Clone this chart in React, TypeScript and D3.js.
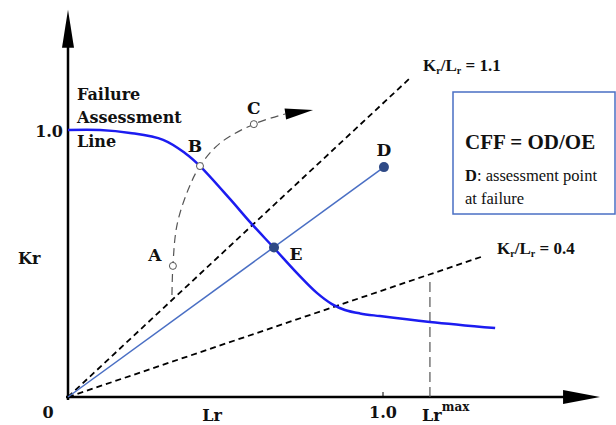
import * as d3 from "d3";

// failure assessment line (Lr, Kr)
const falLr = [0, 0.102, 0.197, 0.302, 0.371, 0.419, 0.514, 0.578, 0.654, 0.727, 0.79, 0.838, 0.879, 0.927, 0.99, 1.149, 1.356];
const falKr = [1.0, 1.0, 0.989, 0.963, 0.914, 0.865, 0.742, 0.655, 0.558, 0.464, 0.39, 0.348, 0.326, 0.313, 0.303, 0.281, 0.258];

// loading path through A, B, C
const pathLr = [0.33, 0.333, 0.346, 0.381, 0.419, 0.483, 0.59, 0.689, 0.778];
const pathKr = [0.382, 0.491, 0.644, 0.775, 0.865, 0.951, 1.022, 1.06, 1.075];

const openPoints = [
  { name: "A", lr: 0.333, kr: 0.491 },
  { name: "B", lr: 0.419, kr: 0.865 },
  { name: "C", lr: 0.59, kr: 1.022 },
];
const pointD = { name: "D", lr: 1.003, kr: 0.861 };
const pointE = { name: "E", lr: 0.654, kr: 0.56 };

const rayRatios = [1.1, 0.4];
const rayEndLr = [1.086, 1.314];

const lrMax = 1.149;
const lrMaxTopKr = 0.431;
const lrAxisEnd = 1.689;
const krAxisEnd = 1.45;

const W = 616;
const H = 425;

const x = d3.scaleLinear().domain([0, 1]).range([68, 383]);
const y = d3.scaleLinear().domain([0, 1]).range([397, 130]);

const labelFont = "'DejaVu Serif', serif";
const boxFont = "'Liberation Serif', 'Times New Roman', serif";

export default function App() {
  const line = d3
    .line<[number, number]>()
    .x((d) => x(d[0]))
    .y((d) => y(d[1]));

  const fal = line.curve(d3.curveCatmullRom.alpha(0.5))(falLr.map((v, i) => [v, falKr[i]]));
  const pathPts: [number, number][] = pathLr.map((v, i) => [v, pathKr[i]]);

  // arrow head at end of loading path
  const last = pathPts[pathPts.length - 1];
  const prev = pathPts[pathPts.length - 2];
  const tipX = x(last[0]);
  const tipY = y(last[1]);
  const ang = Math.atan2(tipY - y(prev[1]), tipX - x(prev[0]));
  const headLen = 28;
  const headHalf = 5.5;
  const baseX = tipX - headLen * Math.cos(ang);
  const baseY = tipY - headLen * Math.sin(ang);
  const nx = -Math.sin(ang);
  const ny = Math.cos(ang);
  const pathLine = d3
    .line<[number, number]>()
    .x((d) => x(d[0]))
    .y((d) => y(d[1]))
    .curve(d3.curveCatmullRom)(pathPts.slice(0, -1).concat([[x.invert(baseX), y.invert(baseY)]]));

  const ox = x(0);
  const oy = y(0);
  const xEnd = x(lrAxisEnd);
  const yEnd = y(krAxisEnd);

  return (
    <svg width={W} height={H} style={{ position: "absolute", left: 0, top: 0, background: "#fff" }}>
      {/* axes */}
      <line x1={ox - 2} y1={oy} x2={xEnd - 36} y2={oy} stroke="#000" strokeWidth={2.5} />
      <polygon points={`${xEnd},${oy} ${xEnd - 37},${oy - 7} ${xEnd - 37},${oy + 7}`} fill="#000" />
      <line x1={ox} y1={oy + 3} x2={ox} y2={yEnd + 36} stroke="#000" strokeWidth={2.5} />
      <polygon points={`${ox},${yEnd} ${ox - 6},${yEnd + 38} ${ox + 6},${yEnd + 38}`} fill="#000" />
      <line x1={x(1)} y1={oy} x2={x(1)} y2={oy - 5} stroke="#000" strokeWidth={1} />

      {/* Lr max */}
      <line x1={x(lrMax)} y1={oy} x2={x(lrMax)} y2={y(lrMaxTopKr)} stroke="#555" strokeWidth={1.2} strokeDasharray="10 5" />

      {/* rays Kr/Lr */}
      {rayRatios.map((r, i) => (
        <line key={r} x1={ox} y1={oy} x2={x(rayEndLr[i])} y2={y(r * rayEndLr[i])} stroke="#000" strokeWidth={1.8} strokeDasharray="6 4" />
      ))}

      {/* OD line */}
      <line x1={ox} y1={oy} x2={x(pointD.lr)} y2={y(pointD.kr)} stroke="#4a6fc4" strokeWidth={1.5} />

      {/* loading path */}
      <path d={pathLine || ""} fill="none" stroke="#555" strokeWidth={1.2} strokeDasharray="8 5" />
      <polygon
        points={`${tipX},${tipY} ${baseX + nx * headHalf},${baseY + ny * headHalf} ${baseX - nx * headHalf},${baseY - ny * headHalf}`}
        fill="#000"
      />

      {/* FAL */}
      <path d={fal || ""} fill="none" stroke="#1c1cf0" strokeWidth={2.5} />

      {openPoints.map((p) => (
        <circle key={p.name} cx={x(p.lr)} cy={y(p.kr)} r={3.5} fill="#fff" stroke="#555" strokeWidth={1} />
      ))}
      {[pointD, pointE].map((p) => (
        <circle key={p.name} cx={x(p.lr)} cy={y(p.kr)} r={5} fill="#2f4a86" />
      ))}

      {/* point labels */}
      <g fontFamily={labelFont} fontWeight="bold" fontSize={17} fill="#111">
        <text x={x(0.333) - 18} y={y(0.491) - 5} textAnchor="middle">A</text>
        <text x={x(0.419) - 5} y={y(0.865) - 14} textAnchor="middle">B</text>
        <text x={x(0.59)} y={y(1.022) - 10} textAnchor="middle">C</text>
        <text x={x(1.003)} y={y(0.861) - 11} textAnchor="middle">D</text>
        <text x={x(0.654) + 22} y={y(0.56) + 13} textAnchor="middle">E</text>
      </g>

      {/* FAL label */}
      <g fontFamily={labelFont} fontWeight="bold" fontSize={16} fill="#111">
        <text x={77} y={100}>Failure</text>
        <text x={77} y={123}>Assessment</text>
        <text x={77} y={147}>Line</text>
      </g>

      {/* axis labels */}
      <g fontFamily={labelFont} fontWeight="bold" fontSize={16} fill="#111">
        <text x={63} y={137} textAnchor="end">1.0</text>
        <text x={18} y={264}>Kr</text>
        <text x={48} y={418} textAnchor="middle">0</text>
        <text x={212} y={421} textAnchor="middle">Lr</text>
        <text x={x(1)} y={418} textAnchor="middle">1.0</text>
        <text x={422} y={421}>
          Lr<tspan fontSize={12} dy={-10}>max</tspan>
        </text>
      </g>

      {/* ray labels */}
      <g fontFamily={boxFont} fontWeight="bold" fontSize={17} fill="#111">
        <text x={423} y={71}>
          K<tspan fontSize={10} dy={3}>r</tspan>
          <tspan dy={-3}>/L</tspan>
          <tspan fontSize={10} dy={3}>r</tspan>
          <tspan dy={-3}> = 1.1</tspan>
        </text>
        <text x={497} y={254}>
          K<tspan fontSize={10} dy={3}>r</tspan>
          <tspan dy={-3}>/L</tspan>
          <tspan fontSize={10} dy={3}>r</tspan>
          <tspan dy={-3}> = 0.4</tspan>
        </text>
      </g>

      {/* info box */}
      <rect x={453} y={92} width={162} height={122} fill="#fff" stroke="#4a6fc4" strokeWidth={1.5} />
      <text x={465} y={149} fontFamily={boxFont} fontWeight="bold" fontSize={21} fill="#111">
        CFF = OD/OE
      </text>
      <text x={465} y={181} fontFamily={boxFont} fontSize={16.5} fill="#111">
        <tspan fontWeight="bold">D</tspan>: assessment point
      </text>
      <text x={465} y={204} fontFamily={boxFont} fontSize={16.5} fill="#111">
        at failure
      </text>
    </svg>
  );
}
